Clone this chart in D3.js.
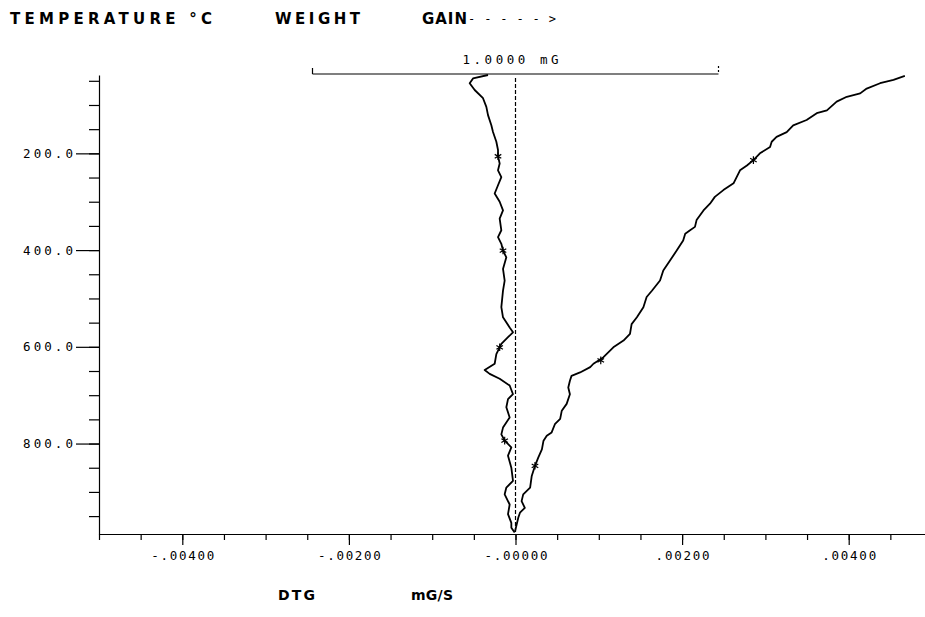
<!DOCTYPE html>
<html>
<head>
<meta charset="utf-8">
<script src="https://cdn.jsdelivr.net/npm/d3@7"></script>
<style>
  body { margin: 0; background: #fff; }
  svg text { font-family: "DejaVu Sans Mono", monospace; fill: #000; }
  .head { font-family: "DejaVu Sans", sans-serif; font-weight: bold; }
</style>
</head>
<body>
<div id="container"></div>
<script>
// DTG curve (mG/S) against temperature (°C)
const dtgTemp = [38, 45, 55, 69, 86, 104, 121, 142, 156, 176, 193, 206, 221, 235, 249, 266, 283, 300, 318, 335,
  359, 373, 387, 401, 415, 439, 463, 484, 518, 539, 560, 570, 580, 594, 601, 615, 635, 648, 656, 666,
  680, 698, 708, 725, 746, 767, 781, 794, 808, 825, 850, 877, 891, 905, 926, 946, 964, 974, 984];
const dtgValue = [-0.00033, -0.00051, -0.00055, -0.00049, -0.00039, -0.00035, -0.00033, -0.00029, -0.00027, -0.00023,
  -0.00021, -0.00021, -0.00019, -0.00021, -0.00017, -0.00021, -0.00025, -0.00019, -0.00015, -0.00019,
  -0.00017, -0.00021, -0.00017, -0.00015, -0.00011, -0.00015, -0.00013, -0.00015, -0.00017, -0.00015,
  -0.00007, -0.00003, -0.00009, -0.00017, -0.00019, -0.00023, -0.00025, -0.00037, -0.00031, -0.00019,
  -0.00007, -0.00003, -0.00009, -0.00011, -0.00007, -0.00015, -0.00017, -0.00013, -0.00005, -0.00009,
  -0.00005, -0.00003, -0.00011, -0.00013, -0.00007, -0.00009, -0.00005, -0.00005, -0.00001];

// weight gain curve (mG) against temperature (°C)
const tgTemp = [40, 48, 55, 66, 76, 83, 93, 111, 117, 131, 142, 156, 166, 176, 187, 200, 214, 225, 235, 262,
  276, 290, 304, 318, 338, 352, 359, 366, 380, 401, 421, 442, 463, 484, 497, 518, 539, 553, 573, 587,
  601, 622, 635, 642, 653, 660, 670, 684, 698, 718, 732, 749, 760, 777, 784, 794, 812, 829, 846, 867,
  891, 905, 919, 933, 943, 953, 967, 981];
const tgWeight = [0.959, 0.931, 0.898, 0.865, 0.849, 0.816, 0.791, 0.767, 0.742, 0.717,
  0.684, 0.668, 0.643, 0.631, 0.627, 0.602, 0.586, 0.570, 0.553, 0.537,
  0.512, 0.491, 0.479, 0.463, 0.446, 0.442, 0.430, 0.418, 0.413, 0.397,
  0.381, 0.364, 0.356, 0.336, 0.323, 0.315, 0.299, 0.286, 0.282, 0.266,
  0.241, 0.216, 0.192, 0.184, 0.159, 0.138, 0.134, 0.130, 0.134, 0.126,
  0.114, 0.110, 0.097, 0.089, 0.077, 0.069, 0.065, 0.056, 0.048, 0.040,
  0.036, 0.019, 0.015, 0.023, 0.011, 0.007, 0.003, -0.001];

// asterisk marks on the curves
const dtgMarkTemp = [206, 401, 601, 794];
const dtgMarkValue = [-0.00021, -0.00015, -0.00019, -0.00013];
const tgMarkTemp = [214, 628, 846];
const tgMarkWeight = [0.586, 0.210, 0.048];

const xMajorTicks = [-0.004, -0.002, 0, 0.002, 0.004];
const xTickLabels = ['-.00400', '-.00200', '-.00000', '.00200', '.00400'];
const xMinorTicks = d3.range(-10, 11).map(i => i * 0.0005);
const yMajorTicks = [200, 400, 600, 800];
const yTickLabels = ['200.0', '400.0', '600.0', '800.0'];
const yMinorTicks = d3.range(1, 20).map(i => i * 50);
const scaleBarLabel = '1.0000 mG';

const w = 925, h = 617;

const xScale = d3.scaleLinear().domain([-0.005, 0.005]).range([99, 932]);
const yScale = d3.scaleLinear().domain([38, 987]).range([75, 534]);
// 1 mG of weight = width of the scale bar
const tgScale = d3.scaleLinear().domain([-0.5, 0.5]).range([xScale(0) - 203, xScale(0) + 203]);

const svg = d3.select('#container').append('svg')
  .attr('width', w).attr('height', h);

// titles
function head(x, y, len, size, txt){
  return svg.append('text').attr('class', 'head')
    .attr('x', x).attr('y', y)
    .attr('font-size', size)
    .attr('textLength', len).attr('lengthAdjust', 'spacing')
    .text(txt);
}
head(10, 24, 202, 15, 'TEMPERATURE °C');
head(275, 24, 85, 15, 'WEIGHT');
head(422, 24, 45, 15, 'GAIN');
svg.append('text').attr('x', 468).attr('y', 23)
  .attr('font-size', 12)
  .attr('textLength', 88).attr('lengthAdjust', 'spacing')
  .text('----->');

head(278, 600, 37, 14, 'DTG');
head(411, 600, 42, 14, 'mG/S');

// y axis
svg.append('g').attr('transform', 'translate(' + xScale(-0.005) + ',0)')
  .call(d3.axisLeft(yScale).tickValues(yMinorTicks).tickSize(10).tickSizeOuter(0).tickFormat(''));
const yMajor = svg.append('g').attr('transform', 'translate(' + xScale(-0.005) + ',0)')
  .call(d3.axisLeft(yScale).tickValues(yMajorTicks).tickSize(23).tickPadding(3)
    .tickFormat((d, i) => yTickLabels[i]));
yMajor.select('.domain').remove();
yMajor.selectAll('text').attr('font-size', 12.5).attr('font-family', '"DejaVu Sans Mono", monospace')
  .attr('textLength', 50).attr('lengthAdjust', 'spacing');

// x axis
svg.append('g').attr('transform', 'translate(0,' + yScale(987) + ')')
  .call(d3.axisBottom(xScale).tickValues(xMinorTicks).tickSize(6).tickSizeOuter(0).tickFormat(''));
const xMajor = svg.append('g').attr('transform', 'translate(0,' + yScale(987) + ')')
  .call(d3.axisBottom(xScale).tickValues(xMajorTicks).tickSize(11).tickPadding(6)
    .tickFormat((d, i) => xTickLabels[i]));
xMajor.select('.domain').remove();
xMajor.selectAll('text').attr('font-size', 12.5).attr('font-family', '"DejaVu Sans Mono", monospace')
  .attr('textLength', (d, i) => xTickLabels[i].length * 9).attr('lengthAdjust', 'spacing');

svg.selectAll('.domain, .tick line').attr('stroke', '#000').attr('stroke-width', 1.2);

// zero line
svg.append('line')
  .attr('x1', xScale(0)).attr('x2', xScale(0))
  .attr('y1', yScale(38) + 3).attr('y2', yScale(987))
  .attr('stroke', '#000').attr('stroke-width', 1.2)
  .attr('stroke-dasharray', '4,2');

// scale bar for the weight curve
const barY = yScale(38) - 1;
svg.append('line')
  .attr('x1', tgScale(-0.5)).attr('x2', tgScale(0.5))
  .attr('y1', barY).attr('y2', barY)
  .attr('stroke', '#000').attr('stroke-width', 1.2);
svg.append('line')
  .attr('x1', tgScale(-0.5)).attr('x2', tgScale(-0.5))
  .attr('y1', barY - 6).attr('y2', barY)
  .attr('stroke', '#000').attr('stroke-width', 1.2);
svg.append('line')
  .attr('x1', tgScale(0.5)).attr('x2', tgScale(0.5))
  .attr('y1', barY - 8).attr('y2', barY)
  .attr('stroke', '#000').attr('stroke-width', 1.2)
  .attr('stroke-dasharray', '2,2');
svg.append('text')
  .attr('x', tgScale(0) - 5).attr('y', barY - 10)
  .attr('text-anchor', 'middle').attr('font-size', 12.5)
  .attr('textLength', 96).attr('lengthAdjust', 'spacing')
  .text(scaleBarLabel);

// curves
const dtgData = dtgTemp.map((t, i) => ({t: t, v: dtgValue[i]}));
const tgData = tgTemp.map((t, i) => ({t: t, v: tgWeight[i]}));

svg.append('path').datum(dtgData)
  .attr('fill', 'none').attr('stroke', '#000').attr('stroke-width', 1.8)
  .attr('stroke-linejoin', 'round')
  .attr('d', d3.line().x(d => xScale(d.v)).y(d => yScale(d.t)));

svg.append('path').datum(tgData)
  .attr('fill', 'none').attr('stroke', '#000').attr('stroke-width', 1.8)
  .attr('stroke-linejoin', 'round')
  .attr('d', d3.line().x(d => tgScale(d.v)).y(d => yScale(d.t)));

const star = d3.symbol().type(d3.symbolAsterisk || d3.symbolCross).size(40);
svg.selectAll('.dtg-mark')
  .data(dtgMarkTemp)
  .enter()
  .append('path')
  .attr('class', 'dtg-mark')
  .attr('transform', (d, i) => 'translate(' + xScale(dtgMarkValue[i]) + ',' + yScale(d) + ')')
  .attr('d', star)
  .attr('fill', 'none').attr('stroke', '#000').attr('stroke-width', 1.2);
svg.selectAll('.tg-mark')
  .data(tgMarkTemp)
  .enter()
  .append('path')
  .attr('class', 'tg-mark')
  .attr('transform', (d, i) => 'translate(' + tgScale(tgMarkWeight[i]) + ',' + yScale(d) + ')')
  .attr('d', star)
  .attr('fill', 'none').attr('stroke', '#000').attr('stroke-width', 1.2);
</script>
</body>
</html>
